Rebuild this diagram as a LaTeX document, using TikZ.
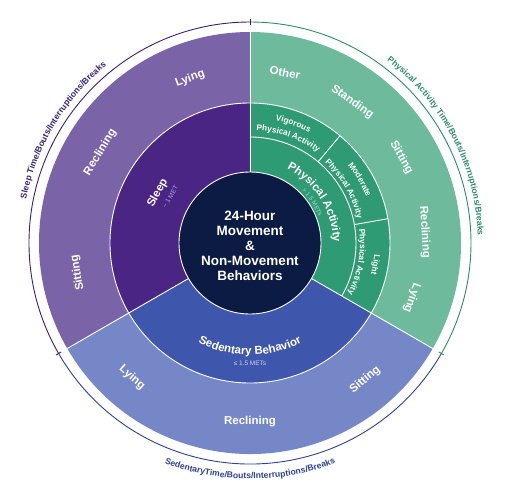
\documentclass[tikz,border=0pt]{standalone}
\usepackage{fontspec}
\setmainfont{Liberation Sans}
\usetikzlibrary{decorations.text}
\definecolor{coreC}{HTML}{0C1B44}
\definecolor{sleepIn}{HTML}{4A2583}
\definecolor{sleepOut}{HTML}{7B63A8}
\definecolor{paIn}{HTML}{2F9B74}
\definecolor{paOut}{HTML}{6DBB9C}
\definecolor{sedIn}{HTML}{3E56AB}
\definecolor{sedOut}{HTML}{7687C8}
\definecolor{sleepLine}{HTML}{3A1F72}
\definecolor{paLine}{HTML}{2C8C69}
\definecolor{sedLine}{HTML}{2D4198}
\definecolor{sleepSub}{HTML}{B6A3DC}
\definecolor{paSub}{HTML}{A8DCC6}
\definecolor{sedSub}{HTML}{C8D0F2}
\begin{document}
\begin{tikzpicture}[x=1pt,y=1pt,
  lbl/.style={text=white,font=\bfseries\fontsize{11.5}{13}\selectfont,inner sep=0pt},
  sep/.style={white,line width=0.9pt},
  annot/.style={line width=0.9pt},
  along/.style={decorate,decoration={text along path,text align=center}}]
\useasboundingbox (-250,-253) rectangle (265,243);
% outer ring
\fill[sleepOut] (0,0) -- (90:211) arc[start angle=90,end angle=210,radius=211] -- cycle;
\fill[sedOut] (0,0) -- (210:211) arc[start angle=210,end angle=330,radius=211] -- cycle;
\fill[paOut] (0,0) -- (-30:211) arc[start angle=-30,end angle=90,radius=211] -- cycle;
% middle ring
\fill[sleepIn] (0,0) -- (90:140) arc[start angle=90,end angle=210,radius=140] -- cycle;
\fill[sedIn] (0,0) -- (210:140) arc[start angle=210,end angle=330,radius=140] -- cycle;
\fill[paIn] (0,0) -- (-30:140) arc[start angle=-30,end angle=90,radius=140] -- cycle;
% core
\fill[coreC] (0,0) circle (71);
% separators
\draw[sep] (0,0) circle (140);
\draw[sep] (0,0) circle (71);
\draw[sep] (90:71) -- (90:211);
\draw[sep] (210:71) -- (210:211);
\draw[sep] (330:71) -- (330:211);
\draw[sep] (-30:106) arc[start angle=-30,end angle=90,radius=106];
\draw[sep] (50:106) -- (50:140);
\draw[sep] (10:106) -- (10:140);
% annotation arcs
\draw[annot,sleepLine] (90:221) arc[start angle=90,end angle=210,radius=221];
\draw[annot,paLine] (90:221) arc[start angle=90,end angle=-30,radius=221];
\draw[annot,sedLine] (210:221) arc[start angle=210,end angle=330,radius=221];
\draw[annot,sleepLine] (90:218) -- (90:224);
\draw[annot,sleepLine] (210:218) -- (210:224);
\draw[annot,paLine] (330:218) -- (330:224);
% annotation texts
\path[along,decoration={text color=sleepLine,text={|\bfseries\fontsize{8.6}{10}\selectfont|Sleep Time/Bouts/Interruptions/Breaks}}]
  (190:228) arc[start angle=190,end angle=108,radius=228];
\path[along,decoration={text color=paLine,text={|\bfseries\fontsize{8.6}{10}\selectfont|Physical Activity Time/Bouts/Interruptions/Breaks}}]
  (75:228) arc[start angle=75,end angle=-20,radius=228];
\path[along,decoration={text color=sedLine,text={|\bfseries\fontsize{8.6}{10}\selectfont|SedentaryTime/Bouts/Interruptions/Breaks}}]
  (230:236) arc[start angle=230,end angle=310,radius=236];
% core text
\node[text=white,font=\bfseries\fontsize{13.5}{15}\selectfont,align=center] (core) at (0,-3)
  {24-Hour\\Movement\\\&\\Non-Movement\\Behaviors};
% sleep
\node[lbl,rotate=20] (sl1) at (110:175) {Lying};
\node[lbl,rotate=58.8] (sl2) at (148.8:175) {Reclining};
\node[lbl,rotate=99.8] (sl3) at (189.8:175) {Sitting};
\node[lbl,rotate=61.5,font=\bfseries\fontsize{11.5}{13}\selectfont] (sleep) at (151.5:105) {Sleep};
\node[inner sep=0pt,rotate=60,text=sleepSub,font=\fontsize{6.5}{8}\selectfont] (sleepmet) at (150:92) {\textasciitilde{} 1 MET};
% physical activity outer
\node[lbl,rotate=-11.6] (pa1) at (78.4:174) {Other};
\node[lbl,rotate=-36] (pa2) at (54:174) {Standing};
\node[lbl,rotate=-60.5] (pa3) at (29.5:174) {Sitting};
\node[lbl,rotate=-86.4] (pa4) at (3.6:175) {Reclining};
\node[lbl,rotate=-108.8] (pa5) at (-18.8:171) {Lying};
% physical activity middle
\path[along,decoration={text color=white,text={|\bfseries\fontsize{11.5}{13}\selectfont|Physical Activity}}]
  (85:83) arc[start angle=85,end angle=-21,radius=83];
\path[along,decoration={text color=paSub,text={|\fontsize{6}{7}\selectfont|> 1.5 METs}}]
  (70:73.5) arc[start angle=70,end angle=-4,radius=73.5];
\path[along,decoration={text color=white,text={|\bfseries\fontsize{8.3}{10}\selectfont|Vigorous}}]
  (90:125) arc[start angle=90,end angle=50,radius=125];
\path[along,decoration={text color=white,text={|\bfseries\fontsize{8.3}{10}\selectfont|Physical Activity}}]
  (92:113) arc[start angle=92,end angle=48,radius=113];
\path[along,decoration={text color=white,text={|\bfseries\fontsize{8.3}{10}\selectfont|Moderate}}]
  (50:125) arc[start angle=50,end angle=10,radius=125];
\path[along,decoration={text color=white,text={|\bfseries\fontsize{8.3}{10}\selectfont|Physical Activity}}]
  (52:110) arc[start angle=52,end angle=8,radius=110];
\path[along,decoration={text color=white,text={|\bfseries\fontsize{8.3}{10}\selectfont|Light}}]
  (10:125) arc[start angle=10,end angle=-30,radius=125];
\path[along,decoration={text color=white,text={|\bfseries\fontsize{8.3}{10}\selectfont|Physical Activity}}]
  (12:110) arc[start angle=12,end angle=-32,radius=110];
% sedentary
\path[along,decoration={text color=white,text={|\bfseries\fontsize{11.5}{13}\selectfont|Sedentary Behavior}}]
  (225:112) arc[start angle=225,end angle=315,radius=112];
\node[inner sep=0pt,text=sedSub,font=\fontsize{6.5}{8}\selectfont] (sedmet) at (0,-120) {≤ 1.5 METs};
\node[lbl,rotate=-41.2] (se1) at (228.8:179) {Lying};
\node[lbl] (se2) at (270:179) {Reclining};
\node[lbl,rotate=40] (se3) at (-50:179) {Sitting};
\end{tikzpicture}
\end{document}
